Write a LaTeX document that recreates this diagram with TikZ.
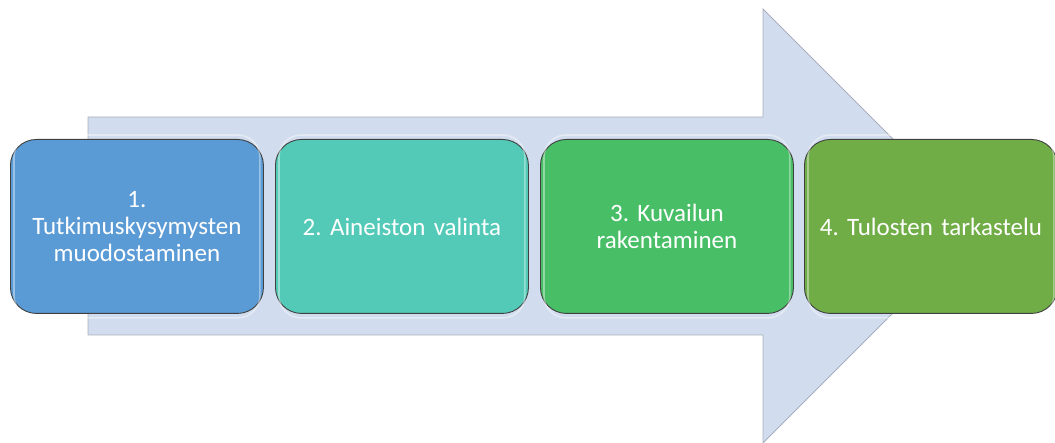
\documentclass[tikz,border=0pt]{standalone}
\usepackage{fontspec}
\setmainfont{Carlito}
\frenchspacing
\definecolor{arrowfill}{HTML}{D1DCEE}
\definecolor{arrowline}{HTML}{A9B0BC}
\definecolor{cA}{HTML}{5B9BD5}
\definecolor{cB}{HTML}{52CAB7}
\definecolor{cC}{HTML}{48BF67}
\definecolor{cD}{HTML}{70AD47}
\tikzset{
  stepbox/.style={draw=black!75, line width=0.9pt, rounded corners=26pt,
    minimum width=253pt, minimum height=174pt, text width=240pt, align=center,
    text=white, font=\fontsize{25}{27}\selectfont, anchor=north west, inner sep=0pt},
  shine/.style={draw=white, draw opacity=0.4, line width=1.6pt, rounded corners=22pt},
  bigarrow/.style={fill=arrowfill, draw=arrowline, line width=0.8pt},
}
\begin{document}
\begin{tikzpicture}[x=1pt,y=-1pt]
\useasboundingbox (0,0) rectangle (1055,443);
\draw[bigarrow] (88,117) -- (763,117) -- (763,9) -- (980,226) -- (763,443) -- (763,335) -- (88,335) -- cycle;
\node[stepbox, fill=cA] (s1) at (10,139) {1.\\Tutkimuskysymysten\\muodostaminen};
\node[stepbox, fill=cB] (s2) at (275,139) {2. Aineiston valinta};
\node[stepbox, fill=cC] (s3) at (540,139) {3. Kuvailun\\rakentaminen};
\node[stepbox, fill=cD] (s4) at (804,139) {4. Tulosten tarkastelu};
\foreach \n in {s1,s2,s3,s4}{
  \draw[shine] ([shift={(4pt,-4pt)}]\n.south west) rectangle ([shift={(-4pt,4pt)}]\n.north east);
}
\end{tikzpicture}
\end{document}
